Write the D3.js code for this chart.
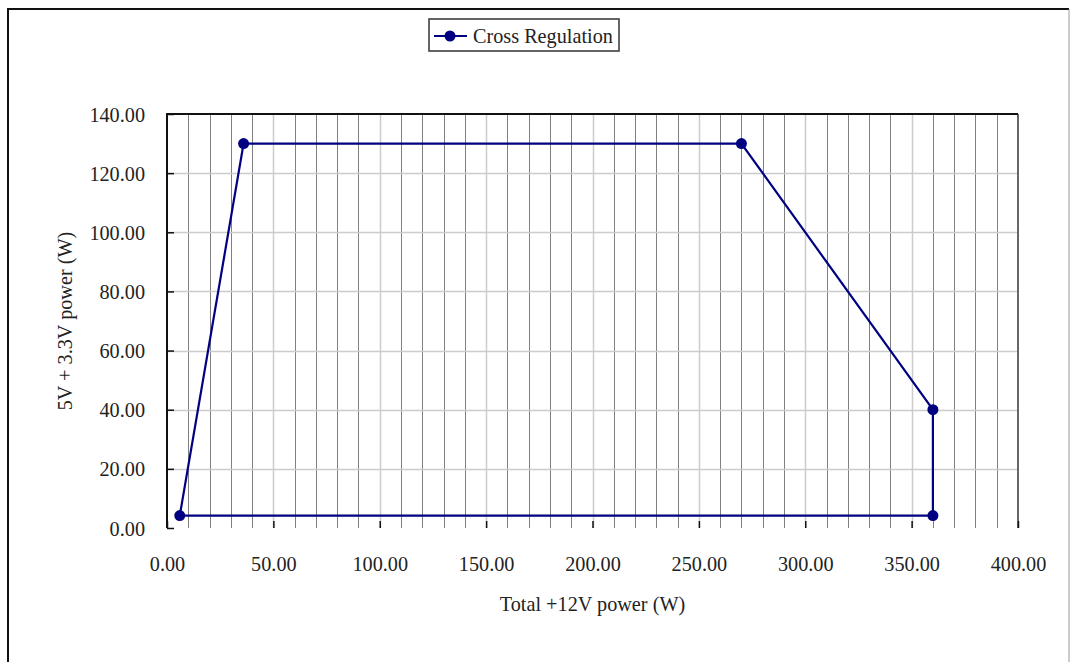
<!DOCTYPE html>
<html>
<head>
<meta charset="utf-8">
<script src="https://cdn.jsdelivr.net/npm/d3@7"></script>
<style>
  body { margin: 0; background: #fff; }
  svg text { font-family: "Liberation Serif", "DejaVu Serif", serif; fill: #222; font-size: 22px; }
  .narrow-c { transform-box: fill-box; transform-origin: center; transform: scaleX(0.92); }
  .narrow-r { transform-box: fill-box; transform-origin: right center; transform: scaleX(0.92); }
  .narrow-l { transform-box: fill-box; transform-origin: left center; transform: scaleX(0.92); }
</style>
</head>
<body>
<svg id="chart"></svg>
<script>
var svgWidth = 1071;
var svgHeight = 662;

// data
var seriesName = "Cross Regulation";
var powerX = [6, 36, 270, 360, 360, 6];
var powerY = [4.2, 130, 130, 40, 4.2, 4.2];
var xTicks = [0, 50, 100, 150, 200, 250, 300, 350, 400];
var yTicks = [0, 20, 40, 60, 80, 100, 120, 140];
var xLabel = "Total +12V power (W)";
var yLabel = "5V + 3.3V power (W)";

var margin = { top: 114, right: 53, bottom: 134, left: 167 };
var width = svgWidth - margin.left - margin.right;
var height = svgHeight - margin.top - margin.bottom;

var svg = d3.select("#chart")
    .attr("width", svgWidth)
    .attr("height", svgHeight);

// outer frame
svg.append("path")
    .attr("d", "M8,662 V9 H1069")
    .attr("fill", "none")
    .attr("stroke", "#111")
    .attr("stroke-width", 2);
svg.append("line")
    .attr("x1", 1069).attr("x2", 1069)
    .attr("y1", 9).attr("y2", 662)
    .attr("stroke", "#999")
    .attr("stroke-width", 1);

var chartGroup = svg.append("g")
    .attr("transform", `translate(${margin.left}, ${margin.top})`);

var x = d3.scaleLinear().domain([0, 400]).range([0, width]);
var y = d3.scaleLinear().domain([0, 140]).range([height, 0]);

// vertical minor grid every 10
chartGroup.append("g")
    .selectAll("line")
    .data(d3.range(10, 400, 10).filter(d => d % 50 !== 0))
    .enter().append("line")
    .attr("x1", d => Math.round(x(d)) + 0.5)
    .attr("x2", d => Math.round(x(d)) + 0.5)
    .attr("y1", 0).attr("y2", height)
    .attr("stroke", "#808080")
    .attr("stroke-width", 1);

// vertical major grid every 50
chartGroup.append("g")
    .selectAll("line")
    .data(xTicks.slice(1, -1))
    .enter().append("line")
    .attr("x1", d => Math.round(x(d)) + 0.5)
    .attr("x2", d => Math.round(x(d)) + 0.5)
    .attr("y1", 0).attr("y2", height)
    .attr("stroke", "#ccc")
    .attr("stroke-width", 1.5);

// horizontal grid
chartGroup.append("g")
    .selectAll("line")
    .data(yTicks.slice(1, -1))
    .enter().append("line")
    .attr("x1", 0).attr("x2", width)
    .attr("y1", d => Math.round(y(d)) + 0.5)
    .attr("y2", d => Math.round(y(d)) + 0.5)
    .attr("stroke", "#ccc")
    .attr("stroke-width", 1.5);

// plot frame
chartGroup.append("line")
    .attr("x1", width).attr("x2", width)
    .attr("y1", 0).attr("y2", height)
    .attr("stroke", "#666").attr("stroke-width", 2);
chartGroup.append("path")
    .attr("d", `M0,${height} V0 H${width}`)
    .attr("fill", "none")
    .attr("stroke", "#111").attr("stroke-width", 2);

// axes with inward ticks
var bottomAxis = d3.axisBottom(x)
    .tickValues(xTicks)
    .tickSize(-7)
    .tickPadding(27)
    .tickFormat(d3.format(".2f"));
var xAxis = chartGroup.append("g")
    .attr("transform", `translate(0, ${height})`)
    .call(bottomAxis);

var leftAxis = d3.axisLeft(y)
    .tickValues(yTicks)
    .tickSize(-7)
    .tickPadding(22)
    .tickFormat(d3.format(".2f"));
var yAxis = chartGroup.append("g")
    .call(leftAxis);

[xAxis, yAxis].forEach(function (ax) {
    ax.attr("font-size", null).attr("font-family", null);
    ax.selectAll(".tick line").attr("stroke", "#111").attr("stroke-width", 1.5);
    ax.selectAll(".tick text").attr("fill", "#222");
    ax.select(".domain").remove();
});
xAxis.selectAll(".tick text").classed("narrow-c", true);
yAxis.selectAll(".tick text").classed("narrow-r", true);

// series
var points = powerX.map((d, i) => ({ x: d, y: powerY[i] }));
var line = d3.line().x(d => x(d.x)).y(d => y(d.y));

chartGroup.append("path")
    .datum(points)
    .attr("d", line)
    .attr("fill", "none")
    .attr("stroke", "#000080")
    .attr("stroke-width", 2.2);

chartGroup.selectAll("circle.pt")
    .data(points.slice(0, -1))
    .enter().append("circle")
    .attr("class", "pt")
    .attr("cx", d => x(d.x))
    .attr("cy", d => y(d.y))
    .attr("r", 5.5)
    .attr("fill", "#000080");

// axis titles
svg.append("text")
    .attr("class", "narrow-c")
    .attr("x", margin.left + width / 2)
    .attr("y", 611)
    .attr("text-anchor", "middle")
    .text(xLabel);

svg.append("g")
    .attr("transform", `translate(72, ${margin.top + height / 2}) rotate(-90)`)
    .append("text")
    .attr("class", "narrow-c")
    .attr("text-anchor", "middle")
    .text(yLabel);

// legend
var legend = svg.append("g").attr("transform", "translate(429, 19)");
legend.append("rect")
    .attr("width", 190).attr("height", 32)
    .attr("fill", "#fff")
    .attr("stroke", "#333").attr("stroke-width", 1.5);
legend.append("line")
    .attr("x1", 5).attr("x2", 38)
    .attr("y1", 17).attr("y2", 17)
    .attr("stroke", "#000080").attr("stroke-width", 2.2);
legend.append("circle")
    .attr("cx", 21).attr("cy", 17).attr("r", 5.5)
    .attr("fill", "#000080");
legend.append("text")
    .attr("class", "narrow-l")
    .attr("x", 44).attr("y", 24)
    .text(seriesName);
</script>
</body>
</html>
